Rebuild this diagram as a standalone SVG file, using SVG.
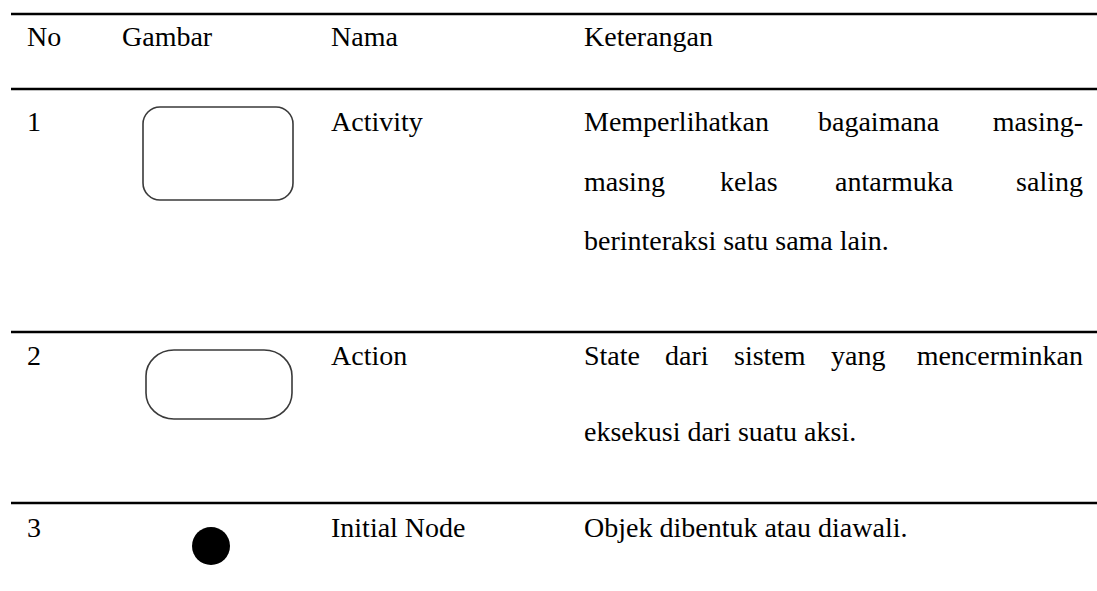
<svg xmlns="http://www.w3.org/2000/svg" width="1097" height="591" viewBox="0 0 1097 591">
<style>
.t{font-family:"Liberation Serif","Times New Roman",serif;font-size:28px;fill:#000}
.e{text-anchor:end}
.rule{stroke:#000;stroke-width:2.5}
.shape{fill:#fff;stroke:#3a3a3a;stroke-width:1.6}
</style>
<rect width="1097" height="591" fill="#fff"/>
<g id="rules">
<line class="rule" x1="11" y1="14" x2="1097" y2="14"/>
<line class="rule" x1="11" y1="89" x2="1097" y2="89"/>
<line class="rule" x1="11" y1="332" x2="1097" y2="332"/>
<line class="rule" x1="11" y1="503" x2="1097" y2="503"/>
</g>
<g id="header">
<text class="t" x="27" y="46">No</text>
<text class="t" x="122" y="46">Gambar</text>
<text class="t" x="331" y="46">Nama</text>
<text class="t" x="584" y="46">Keterangan</text>
</g>
<g id="row1">
<text class="t" x="27" y="131">1</text>
<rect class="shape" x="143" y="107" width="150" height="93" rx="17" ry="17"/>
<text class="t" x="331" y="131">Activity</text>
<text class="t" x="584" y="131">Memperlihatkan</text>
<text class="t" x="818" y="131">bagaimana</text>
<text class="t e" x="1083" y="131">masing-</text>
<text class="t" x="584" y="191">masing</text>
<text class="t" x="720" y="191">kelas</text>
<text class="t" x="835" y="191">antarmuka</text>
<text class="t e" x="1083" y="191">saling</text>
<text class="t" x="584" y="250">berinteraksi satu sama lain.</text>
</g>
<g id="row2">
<text class="t" x="27" y="365">2</text>
<rect class="shape" x="146" y="350" width="146" height="69" rx="28" ry="26"/>
<text class="t" x="331" y="365">Action</text>
<text class="t" x="584" y="365">State</text>
<text class="t" x="665" y="365">dari</text>
<text class="t" x="734" y="365">sistem</text>
<text class="t" x="831" y="365">yang</text>
<text class="t e" x="1083" y="365">mencerminkan</text>
<text class="t" x="584" y="441">eksekusi dari suatu aksi.</text>
</g>
<g id="row3">
<text class="t" x="27" y="537">3</text>
<circle cx="211" cy="546" r="19" fill="#000"/>
<text class="t" x="331" y="537">Initial Node</text>
<text class="t" x="584" y="537">Objek dibentuk atau diawali.</text>
</g>
</svg>
